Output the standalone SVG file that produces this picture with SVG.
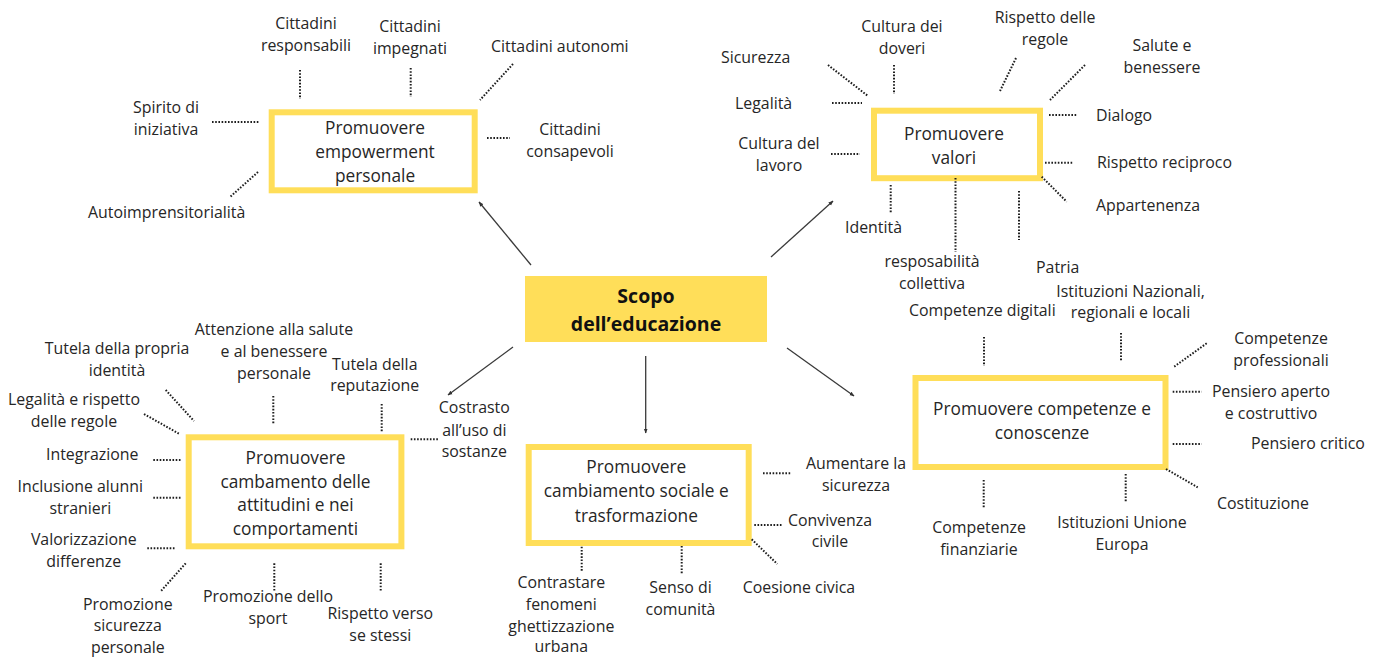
<svg xmlns="http://www.w3.org/2000/svg" width="1380" height="658" viewBox="0 0 1380 658">
<defs>
<marker id="ah" viewBox="0 0 10 10" refX="9" refY="5" markerWidth="5" markerHeight="5" orient="auto" markerUnits="userSpaceOnUse">
<path d="M0,1 L10,5 L0,9 z" fill="#333"/>
</marker>
</defs>
<style>
text{font-family:"Open Sans","Noto Sans","Liberation Sans",sans-serif;fill:#262626}
.lb{font-size:15.9px}
.bt{font-size:17.3px}
.c{text-anchor:middle}
.title{font-size:19.5px;font-weight:bold;text-anchor:middle;fill:#111}
.box{fill:#fff;stroke:#FFDE59;stroke-width:6}
.dot{stroke:#1e1e1e;stroke-width:2;stroke-dasharray:1.6 1.6;fill:none}
.arr{stroke:#3a3a3a;stroke-width:1.3;fill:none;marker-end:url(#ah)}
</style>
<rect width="1380" height="658" fill="#fff"/>

<g id="connectors">
<line class="arr" x1="531" y1="265" x2="479" y2="202"/>
<line class="arr" x1="771" y1="257" x2="833" y2="201"/>
<line class="arr" x1="513" y1="347" x2="448" y2="395"/>
<line class="arr" x1="645.7" y1="356" x2="645.7" y2="433"/>
<line class="arr" x1="787" y1="348" x2="854" y2="396"/>
</g>

<g id="center">
<rect x="525" y="276" width="242" height="66" fill="#FFDE59"/>
<text class="title" x="646" y="303">Scopo</text>
<text class="title" x="646" y="331">dell’educazione</text>
</g>

<g id="empowerment">
<rect class="box" x="271.7" y="112.3" width="203" height="78"/>
<text class="bt c" x="375" y="134">Promuovere</text>
<text class="bt c" x="375" y="158">empowerment</text>
<text class="bt c" x="375" y="182">personale</text>
<g id="emp-labels">
<text class="lb c" x="306" y="29">Cittadini</text>
<text class="lb c" x="306" y="51">responsabili</text>
<line class="dot" x1="300" y1="70" x2="300" y2="99"/>
<text class="lb c" x="410" y="32">Cittadini</text>
<text class="lb c" x="410" y="54">impegnati</text>
<line class="dot" x1="410.7" y1="68" x2="410.7" y2="97"/>
<text class="lb" x="491" y="52">Cittadini autonomi</text>
<line class="dot" x1="513" y1="64" x2="480" y2="100"/>
<text class="lb c" x="166" y="113">Spirito di</text>
<text class="lb c" x="166" y="135">iniziativa</text>
<line class="dot" x1="212" y1="122" x2="260" y2="122"/>
<text class="lb c" x="570" y="135">Cittadini</text>
<text class="lb c" x="570" y="157">consapevoli</text>
<line class="dot" x1="487" y1="138" x2="510" y2="138"/>
<text class="lb" x="88" y="218">Autoimprensitorialità</text>
<line class="dot" x1="258" y1="172" x2="230" y2="197"/>
</g>
</g>

<g id="valori">
<rect class="box" x="874" y="110.7" width="166" height="67.5"/>
<text class="bt c" x="954" y="140">Promuovere</text>
<text class="bt c" x="954" y="164">valori</text>
<g id="val-labels">
<text class="lb" x="721" y="63">Sicurezza</text>
<line class="dot" x1="828" y1="65" x2="868" y2="96"/>
<text class="lb c" x="902" y="32">Cultura dei</text>
<text class="lb c" x="902" y="54">doveri</text>
<line class="dot" x1="894" y1="65" x2="894" y2="94"/>
<text class="lb c" x="1045" y="23">Rispetto delle</text>
<text class="lb c" x="1045" y="45">regole</text>
<line class="dot" x1="1016" y1="58" x2="1000" y2="91"/>
<text class="lb c" x="1162" y="51">Salute e</text>
<text class="lb c" x="1162" y="73">benessere</text>
<line class="dot" x1="1085" y1="65" x2="1050" y2="100"/>
<text class="lb" x="735" y="109">Legalità</text>
<line class="dot" x1="832" y1="103" x2="862" y2="103"/>
<text class="lb c" x="779" y="149">Cultura del</text>
<text class="lb c" x="779" y="171">lavoro</text>
<line class="dot" x1="831" y1="154" x2="860" y2="154"/>
<text class="lb" x="1096" y="121">Dialogo</text>
<line class="dot" x1="1049" y1="115" x2="1077" y2="115"/>
<text class="lb" x="1097" y="168">Rispetto reciproco</text>
<line class="dot" x1="1045" y1="162.7" x2="1073" y2="162.7"/>
<text class="lb" x="1096" y="211">Appartenenza</text>
<line class="dot" x1="1041.7" y1="176.7" x2="1066.7" y2="201.7"/>
<text class="lb" x="845" y="233">Identità</text>
<line class="dot" x1="890.7" y1="185" x2="890.7" y2="213"/>
<text class="lb c" x="932" y="267">resposabilità</text>
<text class="lb c" x="932" y="289">collettiva</text>
<line class="dot" x1="955.5" y1="178" x2="955.5" y2="252"/>
<text class="lb" x="1036" y="273">Patria</text>
<line class="dot" x1="1019" y1="191" x2="1019" y2="240"/>
</g>
</g>

<g id="competenze">
<rect class="box" x="915.5" y="378" width="250" height="89"/>
<text class="bt c" x="1042" y="415">Promuovere competenze e</text>
<text class="bt c" x="1042" y="439">conoscenze</text>
<g id="comp-labels">
<text class="lb" x="909" y="316">Competenze digitali</text>
<line class="dot" x1="984" y1="337" x2="984" y2="366"/>
<text class="lb c" x="1130.5" y="297">Istituzioni Nazionali,</text>
<text class="lb c" x="1130.5" y="318">regionali e locali</text>
<line class="dot" x1="1121" y1="333" x2="1121" y2="361"/>
<text class="lb c" x="1281" y="344">Competenze</text>
<text class="lb c" x="1281" y="366">professionali</text>
<line class="dot" x1="1206.7" y1="343.3" x2="1173.3" y2="367.3"/>
<text class="lb c" x="1271" y="397">Pensiero aperto</text>
<text class="lb c" x="1271" y="419">e costruttivo</text>
<line class="dot" x1="1172.7" y1="391.7" x2="1201.7" y2="391.7"/>
<text class="lb" x="1251" y="449">Pensiero critico</text>
<line class="dot" x1="1172.7" y1="444" x2="1201.7" y2="444"/>
<text class="lb" x="1217" y="509">Costituzione</text>
<line class="dot" x1="1166" y1="469" x2="1197.7" y2="487.3"/>
<text class="lb c" x="979" y="533">Competenze</text>
<text class="lb c" x="979" y="555">finanziarie</text>
<line class="dot" x1="983.7" y1="480" x2="983.7" y2="508"/>
<text class="lb c" x="1122" y="528">Istituzioni Unione</text>
<text class="lb c" x="1122" y="550">Europa</text>
<line class="dot" x1="1125.7" y1="474" x2="1125.7" y2="502"/>
</g>
</g>

<g id="sociale">
<rect class="box" x="528.7" y="447" width="220" height="96"/>
<text class="bt c" x="636.3" y="473">Promuovere</text>
<text class="bt c" x="636.3" y="497">cambiamento sociale e</text>
<text class="bt c" x="636.3" y="521.5">trasformazione</text>
<g id="soc-labels">
<text class="lb c" x="856" y="469">Aumentare la</text>
<text class="lb c" x="856" y="491">sicurezza</text>
<line class="dot" x1="763" y1="473.3" x2="791.7" y2="473.3"/>
<text class="lb c" x="830" y="526">Convivenza</text>
<text class="lb c" x="830" y="547">civile</text>
<line class="dot" x1="754.3" y1="525" x2="782.7" y2="525"/>
<text class="lb" x="742.7" y="593">Coesione civica</text>
<line class="dot" x1="751.7" y1="539.3" x2="777.3" y2="564"/>
<text class="lb c" x="561.3" y="588">Contrastare</text>
<text class="lb c" x="561.3" y="610">fenomeni</text>
<text class="lb c" x="561.3" y="631.5">ghettizzazione</text>
<text class="lb c" x="561.3" y="652">urbana</text>
<line class="dot" x1="581.7" y1="546.7" x2="581.7" y2="571.7"/>
<text class="lb c" x="680.5" y="593">Senso di</text>
<text class="lb c" x="680.5" y="615">comunità</text>
<line class="dot" x1="681.7" y1="546" x2="681.7" y2="574"/>
</g>
</g>

<g id="attitudini">
<rect class="box" x="188.7" y="437.3" width="212.7" height="109"/>
<text class="bt c" x="295.5" y="464">Promuovere</text>
<text class="bt c" x="295.5" y="487.5">cambamento delle</text>
<text class="bt c" x="295.5" y="511">attitudini e nei</text>
<text class="bt c" x="295.5" y="535">comportamenti</text>
<g id="att-labels">
<text class="lb c" x="474.3" y="413">Costrasto</text>
<text class="lb c" x="474.3" y="435.5">all’uso di</text>
<text class="lb c" x="474.3" y="457">sostanze</text>
<line class="dot" x1="410.7" y1="439.3" x2="439.3" y2="439.3"/>
<text class="lb c" x="117" y="353.5">Tutela della propria</text>
<text class="lb c" x="117" y="375.5">identità</text>
<line class="dot" x1="165.7" y1="390" x2="194" y2="421"/>
<text class="lb c" x="274" y="335">Attenzione alla salute</text>
<text class="lb c" x="274" y="357">e al benessere</text>
<text class="lb c" x="274" y="378.5">personale</text>
<line class="dot" x1="273.3" y1="396" x2="273.3" y2="423.3"/>
<text class="lb c" x="374.7" y="370">Tutela della</text>
<text class="lb c" x="374.7" y="391">reputazione</text>
<line class="dot" x1="381.7" y1="404" x2="381.7" y2="431.7"/>
<text class="lb c" x="74" y="405">Legalità e rispetto</text>
<text class="lb c" x="74" y="427">delle regole</text>
<line class="dot" x1="144" y1="414" x2="180" y2="434.3"/>
<text class="lb" x="46" y="460">Integrazione</text>
<line class="dot" x1="153.3" y1="460" x2="181.7" y2="460"/>
<text class="lb c" x="80.3" y="492">Inclusione alunni</text>
<text class="lb c" x="80.3" y="514">stranieri</text>
<line class="dot" x1="153.3" y1="497.7" x2="181.7" y2="497.7"/>
<text class="lb c" x="83.8" y="545">Valorizzazione</text>
<text class="lb c" x="83.8" y="567">differenze</text>
<line class="dot" x1="147.3" y1="548.3" x2="175.7" y2="548.3"/>
<text class="lb c" x="127.8" y="609.5">Promozione</text>
<text class="lb c" x="127.8" y="631">sicurezza</text>
<text class="lb c" x="127.8" y="653">personale</text>
<line class="dot" x1="185.7" y1="563.3" x2="161" y2="591"/>
<text class="lb c" x="268" y="602">Promozione dello</text>
<text class="lb c" x="268" y="623.5">sport</text>
<line class="dot" x1="274.3" y1="563.3" x2="274.3" y2="591"/>
<text class="lb c" x="380.3" y="618.5">Rispetto verso</text>
<text class="lb c" x="380.3" y="641">se stessi</text>
<line class="dot" x1="380.7" y1="563.3" x2="380.7" y2="591"/>
</g>
</g>
</svg>
